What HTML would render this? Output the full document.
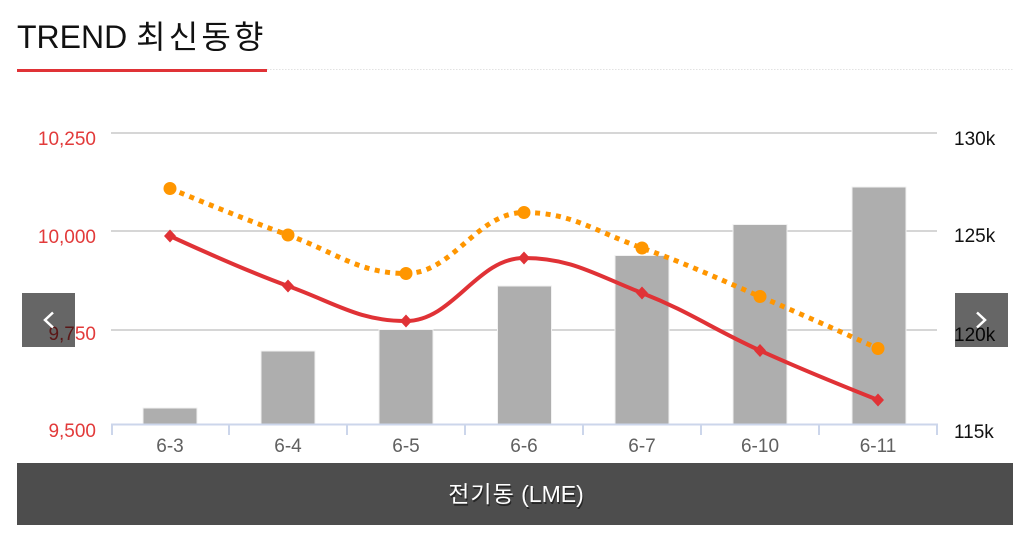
<!DOCTYPE html>
<html>
<head>
<meta charset="utf-8">
<style>
  html, body { margin: 0; padding: 0; background: #fff; }
  body { width: 1029px; height: 537px; overflow: hidden; }
  svg { display: block; }
  .t { font-family: "Liberation Sans", "Noto Sans CJK KR", sans-serif; }
</style>
</head>
<body>
<svg width="1029" height="537" viewBox="0 0 1029 537" xmlns="http://www.w3.org/2000/svg">
  <!-- Title -->
  <text class="t" x="17" y="48" font-size="32" fill="#111">TREND <tspan letter-spacing="3.2">최신동향</tspan></text>
  <line x1="267" y1="69.5" x2="1013" y2="69.5" stroke="#e2e2e2" stroke-width="1" stroke-dasharray="1.5 1.5"/>
  <rect x="17" y="69" width="250" height="3" fill="#e03236"/>

  <!-- Gridlines -->
  <g stroke="#c8c8c8" stroke-width="1.5">
    <line x1="111" y1="133" x2="937" y2="133"/>
    <line x1="111" y1="231" x2="937" y2="231"/>
    <line x1="111" y1="330" x2="937" y2="330"/>
  </g>

  <!-- Bars -->
  <g fill="#aeaeae" stroke="#f2f2f2" stroke-width="1">
    <rect x="143" y="408" width="54" height="16.5"/>
    <rect x="261" y="351" width="54" height="73.5"/>
    <rect x="379" y="329.5" width="54" height="95"/>
    <rect x="497.5" y="286" width="54" height="138.5"/>
    <rect x="615" y="255.5" width="54" height="169"/>
    <rect x="733" y="224.5" width="54" height="200"/>
    <rect x="852" y="187" width="54" height="237.5"/>
  </g>

  <!-- X axis -->
  <g stroke="#ccd6eb" stroke-width="2">
    <line x1="111" y1="424.5" x2="938" y2="424.5"/>
    <line x1="112" y1="424" x2="112" y2="435"/>
    <line x1="229" y1="424" x2="229" y2="435"/>
    <line x1="347" y1="424" x2="347" y2="435"/>
    <line x1="465" y1="424" x2="465" y2="435"/>
    <line x1="583" y1="424" x2="583" y2="435"/>
    <line x1="701" y1="424" x2="701" y2="435"/>
    <line x1="819" y1="424" x2="819" y2="435"/>
    <line x1="937" y1="424" x2="937" y2="435"/>
  </g>

  <!-- Left axis labels -->
  <g class="t" font-size="19" fill="#e23a3a" text-anchor="end">
    <text x="96" y="145">10,250</text>
    <text x="96" y="243">10,000</text>
    <text x="96" y="340">9,750</text>
    <text x="96" y="437">9,500</text>
  </g>

  <!-- Right axis labels -->
  <g class="t" font-size="19" fill="#111">
    <text x="954" y="145">130k</text>
    <text x="954" y="242">125k</text>
    <text x="954" y="341">120k</text>
    <text x="954" y="438">115k</text>
  </g>

  <!-- X labels -->
  <g class="t" font-size="19" fill="#606060" text-anchor="middle">
    <text x="170" y="452">6-3</text>
    <text x="288" y="452">6-4</text>
    <text x="406" y="452">6-5</text>
    <text x="524" y="452">6-6</text>
    <text x="642" y="452">6-7</text>
    <text x="760" y="452">6-10</text>
    <text x="878" y="452">6-11</text>
  </g>

  <!-- Orange dotted spline -->
  <path d="M170 188.5 C170 188.5 240.8 218 288 235 C335.2 252 358.8 273.5 406 273.5 C453.2 273.5 476.8 212.5 524 212.5 C571.2 212.5 594.8 231.2 642 248 C689.2 264.8 712.8 276.4 760 296.5 C807.2 316.6 878 348.5 878 348.5"
        fill="none" stroke="#ff9600" stroke-width="5" stroke-dasharray="5 5.5"/>
  <g fill="#ff9600">
    <circle cx="170" cy="188.5" r="6.5"/>
    <circle cx="288" cy="235" r="6.5"/>
    <circle cx="406" cy="273.5" r="6.5"/>
    <circle cx="524" cy="212.5" r="6.5"/>
    <circle cx="642" cy="248" r="6.5"/>
    <circle cx="760" cy="296.5" r="6.5"/>
    <circle cx="878" cy="348.5" r="6.5"/>
  </g>

  <!-- Red spline -->
  <path d="M170 236 C170 236 240.8 269 288 286 C335.2 303 358.8 321 406 321 C453.2 321 476.8 258 524 258 C571.2 258 594.8 274.5 642 293 C689.2 311.5 712.8 329.1 760 350.5 C807.2 371.9 878 400 878 400"
        fill="none" stroke="#e03236" stroke-width="4" stroke-linejoin="round"/>
  <g fill="#e03236">
    <path d="M170 229.5 L176 236 L170 242.5 L164 236 Z"/>
    <path d="M288 279.5 L294 286 L288 292.5 L282 286 Z"/>
    <path d="M406 314.5 L412 321 L406 327.5 L400 321 Z"/>
    <path d="M524 251.5 L530 258 L524 264.5 L518 258 Z"/>
    <path d="M642 286.5 L648 293 L642 299.5 L636 293 Z"/>
    <path d="M760 344 L766 350.5 L760 357 L754 350.5 Z"/>
    <path d="M878 393.5 L884 400 L878 406.5 L872 400 Z"/>
  </g>

  <!-- Nav buttons -->
  <rect x="22" y="293" width="53" height="54" fill="rgba(0,0,0,0.6)"/>
  <polyline points="53,312.5 45,320 53,327.5" fill="none" stroke="#fff" stroke-width="2.5"/>
  <rect x="955" y="293" width="53" height="54" fill="rgba(0,0,0,0.6)"/>
  <polyline points="977,312.5 985,320 977,327.5" fill="none" stroke="#fff" stroke-width="2.5"/>

  <!-- Bottom bar -->
  <rect x="17" y="463" width="996" height="62" fill="#4d4d4d"/>
  <text class="t" x="516" y="502" font-size="23" fill="#000" fill-opacity="0.5" text-anchor="middle" transform="translate(1,2)"><tspan letter-spacing="1">전기동</tspan> (LME)</text>
  <text class="t" x="516" y="502" font-size="23" fill="#fff" text-anchor="middle"><tspan letter-spacing="1">전기동</tspan> (LME)</text>
</svg>
</body>
</html>
